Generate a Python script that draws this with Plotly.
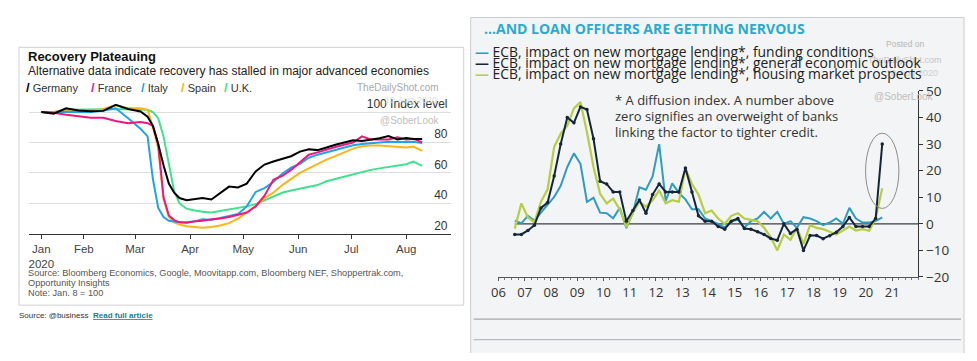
import plotly.graph_objects as go
import pandas as pd

# The page keeps the browser's default 8px body margin, so the figure is made
# 16px smaller than the window and every layout position is measured from (8, 8).
PAGE_W, PAGE_H, M = 977, 361, 8
W, H = PAGE_W - 2 * M, PAGE_H - 2 * M
LF = "Liberation Sans, Arial, sans-serif"
RF = "Open Sans, sans-serif"

# ---------------- Left chart: Recovery Plateauing ----------------
dates = ["2020-01-08", "2020-01-15", "2020-01-22", "2020-01-29",
         "2020-02-05", "2020-02-12", "2020-02-19", "2020-02-26",
         "2020-03-04", "2020-03-08", "2020-03-11", "2020-03-14", "2020-03-17",
         "2020-03-20", "2020-03-23", "2020-03-26", "2020-03-30",
         "2020-04-03", "2020-04-08", "2020-04-13", "2020-04-18", "2020-04-23", "2020-04-28",
         "2020-05-03", "2020-05-08", "2020-05-13", "2020-05-18", "2020-05-23", "2020-05-28",
         "2020-06-02", "2020-06-07", "2020-06-12", "2020-06-17", "2020-06-22", "2020-06-27",
         "2020-07-02", "2020-07-07", "2020-07-12", "2020-07-17", "2020-07-22", "2020-07-27",
         "2020-08-01", "2020-08-05", "2020-08-10"]

germany = [100, 99, 102.5, 101,
           100.6, 100.8, 104.8, 102,
           100.4, 97, 91, 79, 65, 53, 47, 43.5, 42,
           42.5, 43.5, 42.5, 47, 51, 50.5,
           53, 61, 65.5, 67.5, 69.5, 71,
           74, 75.5, 75, 77, 78.5, 80,
           81.5, 81, 82, 82.8, 84.3, 82,
           83, 82.3, 82.3]
france = [100, 99.6, 98.3, 97.5,
          96.3, 96.3, 94.2, 92.7,
          93.4, 92.7, 91, 79, 44, 32, 29, 27.5, 27.3,
          28, 28.5, 29.5, 30, 31, 32.5,
          34, 38, 45, 55.5, 58, 62,
          67, 72, 73.5, 75.5, 77, 78.5,
          80, 84, 82, 82, 82, 83.5,
          82, 82.5, 80]
italy = [100, 99.5, 100.3, 100.3,
         100, 101, 102.5, 96,
         89, 84, 56, 37, 31, 28.5, 27.8, 27.5, 27.5,
         28, 29.5, 29, 30.4, 31.5, 33,
         38, 47.5, 50, 54, 59.5, 63.5,
         66, 70, 72, 73.5, 75, 76.5,
         78.2, 79, 79.5, 80, 80.5, 80.3,
         80.3, 80.5, 79.6]
spain = [100, 100, 101, 100.5,
         100.5, 102, 104.5, 102.5,
         102.5, 101.5, 90, 76, 43, 31, 27.5, 26, 25,
         24.5, 24, 24.5, 25.5, 27, 30,
         34, 38, 43.5, 47, 52, 56,
         60, 63, 66, 68.8, 71, 73.5,
         76, 77.5, 78, 78, 77.5, 77.3,
         76.8, 77.3, 74.5]
uk = [100, 100, 101.5, 101.7,
      101.7, 101.7, 102.3, 102,
      101.7, 101.5, 100, 96, 84, 65, 48, 40, 36.5,
      35.5, 34.5, 34, 35, 36, 37,
      38, 39.5, 42, 45, 47, 48.5,
      49.5, 51, 52, 54.5, 56, 58,
      59.5, 61, 62, 63, 64, 65,
      65.7, 67.5, 64.7]

left_names = ["Germany", "France", "Italy", "Spain", "U.K."]
left_colors = ["#000000", "#f2167f", "#1da3f0", "#fdb515", "#3ee28c"]
left_series = [germany, france, italy, spain, uk]

month_ticks = ["2020-01-08", "2020-02-01", "2020-03-01", "2020-04-01", "2020-05-01",
               "2020-06-01", "2020-07-01", "2020-08-01"]
month_labels = ["Jan<br>2020", "Feb", "Mar", "Apr", "May", "Jun", "Jul", "Aug"]
left_yticks = [20, 40, 60, 80, 100]
left_ylabels = ["20", "40", "60", "80", "100 Index level"]

# ---------------- Right chart: ECB loan officers ----------------
quarters = ["2006Q3", "2006Q4",
            "2007Q1", "2007Q2", "2007Q3", "2007Q4",
            "2008Q1", "2008Q2", "2008Q3", "2008Q4",
            "2009Q1", "2009Q2", "2009Q3", "2009Q4",
            "2010Q1", "2010Q2", "2010Q3", "2010Q4",
            "2011Q1", "2011Q2", "2011Q3", "2011Q4",
            "2012Q1", "2012Q2", "2012Q3", "2012Q4",
            "2013Q1", "2013Q2", "2013Q3", "2013Q4",
            "2014Q1", "2014Q2", "2014Q3", "2014Q4",
            "2015Q1", "2015Q2", "2015Q3", "2015Q4",
            "2016Q1", "2016Q2", "2016Q3", "2016Q4",
            "2017Q1", "2017Q2", "2017Q3", "2017Q4",
            "2018Q1", "2018Q2", "2018Q3", "2018Q4",
            "2019Q1", "2019Q2", "2019Q3", "2019Q4",
            "2020Q1", "2020Q2", "2020Q3"]

funding = [1.2, 0.2, 3, 1.2, 4.2, 7.1, 10.1, 14.3, 21.4, 26.5,
           22.6, 8.3, 9.8, 4.2, 4, 2.1, 6, -1.6, 4.2, 13.7,
           12.8, 17.8, 30, 8.6, 15.2, 11.6, 9.2, 5.5, 5.5, 2,
           1, 0, -1.4, 1, 1.5, -1.4, 1, 2, 4.5, 2,
           4.5, 0, 1, -1.5, 2.5, 2, 1, -0.5, 0.5, 2,
           0, 6, 2, 0.5, 0.5, 1, 2.4]
outlook = [-4, -4, -2.5, -0.5, 6, 8, 18, 30, 40, 38,
           44, 43, 32, 16, 15, 12, 12, 1, 5, 9,
           4, 11, 15, 12, 12, 12, 21, 12, 3, 1,
           1, -1, -2, 1, 2, -1.8, -2, -3, -4, -5.5,
           -6.2, 0, -3.6, -2, -10, -4.4, -4.4, -5.6, -4.5, -3.2,
           -1, 2.4, -1, -1, -1, 2, 30]
housing = [-1.8, 7.7, 2.4, 0.6, 8.3, 13, 29, 33.9, 36.9, 43.4,
           45.8, 34.5, 21.4, 11.3, 7.7, 9.5, 5.4, -1.2, 4.2, 8.3,
           6.5, 8.9, 12.5, 7.7, 8.9, 8.3, 20.8, 15, 11, 4,
           5, 2, 0, 3, 4, 2, 1.5, 1, -1.5, -5,
           -10, -4, -6, -1.5, -7.5, -0.5, -1.5, -2, -3, -4,
           -2.5, -1, -2.5, -2, -2.6, 2, 13.4]

right_names = ["ECB, impact on new mortgage lending*, funding conditions",
               "ECB, impact on new mortgage lending*, general economic outlook",
               "ECB, impact on new mortgage lending*, housing market prospects"]
right_colors = ["#2f9cc3", "#16263a", "#b7cd43"]
year_ticks = [f"{y}-01-01" for y in range(2006, 2022)]
year_labels = [f"{y % 100:02d}" for y in range(2006, 2022)]

qdates = []
for q in quarters:
    p = pd.Period(q, freq="Q")
    qdates.append(p.start_time + (p.end_time - p.start_time) / 2)


def fx(p):
    return (p - M) / W


def fy(p):
    return 1 - (p - M) / H


fig = go.Figure()

for idx in [4, 3, 2, 1, 0]:
    fig.add_trace(go.Scatter(
        x=dates, y=left_series[idx], mode="lines", name=left_names[idx],
        line=dict(color=left_colors[idx], width=2), xaxis="x", yaxis="y",
        showlegend=False))

fig.add_trace(go.Scatter(x=qdates, y=funding, mode="lines", name=right_names[0],
                         line=dict(color=right_colors[0], width=2),
                         xaxis="x2", yaxis="y2", showlegend=False))
fig.add_trace(go.Scatter(x=qdates, y=housing, mode="lines", name=right_names[2],
                         line=dict(color=right_colors[2], width=2.2),
                         xaxis="x2", yaxis="y2", showlegend=False))
fig.add_trace(go.Scatter(x=qdates, y=outlook, mode="lines+markers", name=right_names[1],
                         line=dict(color=right_colors[1], width=2),
                         marker=dict(size=3.5, color=right_colors[1]),
                         xaxis="x2", yaxis="y2", showlegend=False))

shapes = [
    dict(type="rect", xref="paper", yref="paper", x0=fx(467), x1=fx(964),
         y0=fy(375), y1=fy(8.5), fillcolor="#f2f4f5", line=dict(color="#cccccc", width=1),
         layer="below"),
    dict(type="rect", xref="paper", yref="paper", x0=fx(12), x1=fx(460),
         y0=fy(312), y1=fy(40), fillcolor="#ffffff", line=dict(color="#d0d0d0", width=1),
         layer="below"),
    dict(type="line", xref="paper", yref="paper", x0=fx(470), x1=fx(961),
         y0=fy(326.7), y1=fy(326.7), line=dict(color="#a9a9a9", width=1.2)),
    dict(type="line", xref="paper", yref="paper", x0=fx(470), x1=fx(961),
         y0=fy(348.3), y1=fy(348.3), line=dict(color="#b3bcc0", width=1.2)),
    dict(type="line", xref="x2", yref="y2", x0=qdates[0], x1="2022-01-01",
         y0=0, y1=0, line=dict(color="#3a3f44", width=1.2), layer="below"),
    dict(type="circle", xref="x2", yref="y2", x0="2019-12-28", x1="2021-04-05",
         y0=5.8, y1=34.1, line=dict(color="#8c8c8c", width=1)),
]


def A(text, x, y, size, color, family=LF, xanchor="left", yanchor="middle"):
    return dict(text=text, x=fx(x), y=fy(y), xref="paper", yref="paper",
                xanchor=xanchor, yanchor=yanchor, showarrow=False, borderpad=0,
                font=dict(size=size, color=color, family=family))


ann = [
    A("<b>Recovery Plateauing</b>", 20, 50, 13, "#111111"),
    A("Alternative data indicate recovery has stalled in major advanced economies", 20, 64.5, 12, "#222222"),
    A("TheDailyShot.com", 351, 82, 10, "#a9a9a9"),
    A("10-Aug-2020", 380, 96, 9, "#dddddd"),
    A("@SoberLook", 375, 117, 10, "#bdbdbd"),
    A("Source: Bloomberg Economics, Google, Moovitapp.com, Bloomberg NEF, Shoppertrak.com,", 20, 278.5, 9.2, "#555555"),
    A("Opportunity Insights", 20, 288.7, 9.2, "#555555"),
    A("Note: Jan. 8 = 100", 20, 298.7, 9.2, "#555555"),
    A("Source: @business", 11, 323, 8, "#333333"),
    A("<b><u>Read full article</u></b>", 86, 323, 8, "#17808f"),
    A("<b>...AND LOAN OFFICERS ARE GETTING NERVOUS</b>", 479, 20, 14, "#2aaad0", RF),
    A("Posted on", 884, 37, 8.5, "#b5b5b5"),
    A("TheDailyShot.com", 866, 53, 9, "#c4c4c4"),
    A("10-Aug-2020", 884, 67, 9, "#cfcfcf"),
    A("@SoberLook", 872, 92, 10, "#bdbdbd"),
    A("* A diffusion index. A number above", 611, 96, 13, "#333333", RF),
    A("zero signifies an overweight of banks", 611, 112, 13, "#333333", RF),
    A("linking the factor to tighter credit.", 611, 129, 13, "#333333", RF),
]

leg_x = [18, 84, 134, 174, 218]
for i in range(5):
    ann.append(A(f"<span style='color:{left_colors[i]};font-size:13px'><b>/</b></span> {left_names[i]}",
                 leg_x[i], 82, 11, "#333333"))

for i, yy in enumerate([44, 56, 68]):
    ann.append(A(f"<span style='color:{right_colors[i]}'><b>—</b></span> {right_names[i]}",
                 470, yy, 13.9, "#222222", RF))

fig.update_layout(
    width=W, height=H, margin=dict(l=0, r=0, t=0, b=0),
    paper_bgcolor="#ffffff", plot_bgcolor="rgba(0,0,0,0)",
    font=dict(family=LF, color="#333333"),
    shapes=shapes, annotations=ann, showlegend=False,
    xaxis=dict(domain=[fx(22), fx(446.7)], anchor="y", type="date",
               range=["2020-01-01", "2020-08-26"],
               tickvals=month_ticks, ticktext=month_labels,
               showline=True, linecolor="#333333", linewidth=1.3,
               ticks="outside", ticklen=4, tickcolor="#333333",
               tickfont=dict(size=11.5, color="#444444", family=LF),
               showgrid=False, zeroline=False, fixedrange=True),
    yaxis=dict(domain=[fy(236.7), fy(99.5)], anchor="x", range=[20, 105.5],
               side="right", tickvals=left_yticks, ticktext=left_ylabels,
               ticklabelposition="inside top", ticklabeloverflow="allow",
               showgrid=True, gridcolor="#dedede", gridwidth=1,
               showline=False, ticks="", zeroline=False,
               tickfont=dict(size=12, color="#333333", family=LF)),
    xaxis2=dict(domain=[fx(495), fx(918)], anchor="y2", type="date",
                range=["2006-01-01", "2022-01-01"],
                tickvals=year_ticks, ticktext=year_labels,
                showline=True, linecolor="#555555", linewidth=1,
                ticks="outside", ticklen=3, tickcolor="#555555",
                minor=dict(dtick="M3", ticks="outside", ticklen=2, tickcolor="#777777"),
                tickfont=dict(size=13, color="#333333", family=RF),
                showgrid=False, zeroline=False),
    yaxis2=dict(domain=[fy(282.3), fy(86)], anchor="x2", range=[-20, 50],
                side="right", dtick=10, showline=True, linecolor="#333333", linewidth=1,
                ticks="outside", ticklen=4, tickcolor="#333333",
                tickfont=dict(size=13.5, color="#333333", family=RF),
                showgrid=False, zeroline=False),
)

fig.write_html("out.html", config={"displayModeBar": False})
